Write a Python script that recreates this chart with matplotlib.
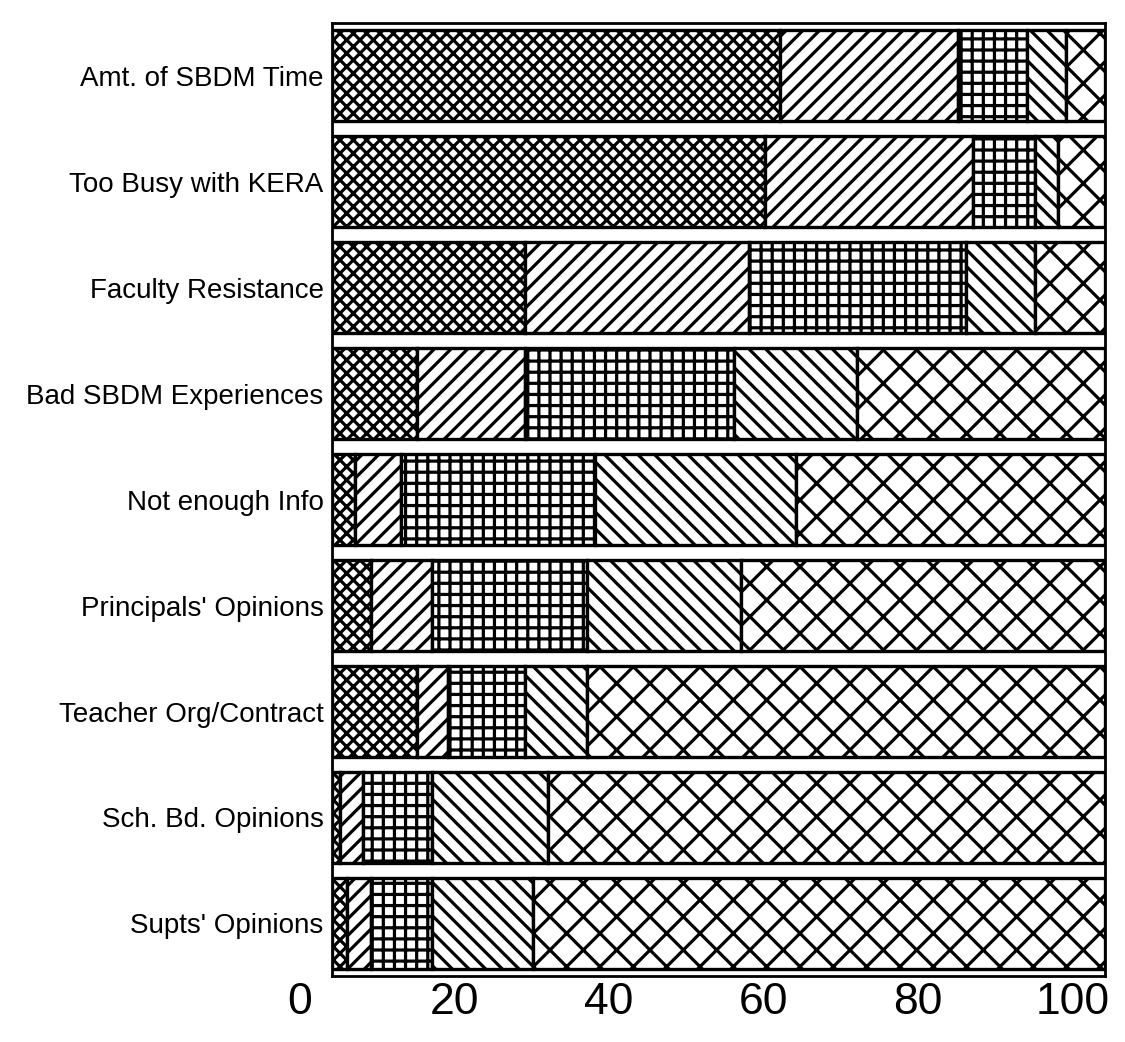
"""
plot.py

Stacked horizontal bars with hatch fills (scanned survey chart).
"""

import matplotlib

matplotlib.use("Agg")
import matplotlib.pyplot as plt
import matplotlib.transforms as mtransforms
import numpy as np

categories = [
    "Amt. of SBDM Time",
    "Too Busy with KERA",
    "Faculty Resistance",
    "Bad SBDM Experiences",
    "Not enough Info",
    "Principals' Opinions",
    "Teacher Org/Contract",
    "Sch. Bd. Opinions",
    "Supts' Opinions",
]

# percentage of responses per segment, left to right
seg_1 = [58, 56, 25, 11, 3, 5, 11, 1, 2]
seg_2 = [23, 27, 29, 14, 6, 8, 4, 3, 3]
seg_3 = [9, 8, 28, 27, 25, 20, 10, 9, 8]
seg_4 = [5, 3, 9, 16, 26, 20, 8, 15, 13]
seg_5 = [5, 6, 9, 32, 40, 47, 67, 72, 74]

xticks = [0, 20, 40, 60, 80, 100]

# diagonal hatches are half as dense as grid ones, hence the longer strings
hatches = ["xxxxx", "////", "+++", "\\\\\\\\", "xx"]

plt.rcParams["hatch.linewidth"] = 1.15
plt.rcParams["hatch.color"] = "black"

fig = plt.figure(figsize=(5.625, 5.21), dpi=200)
ax = fig.add_axes([0.295, 0.063, 0.687, 0.915])

y = np.arange(len(categories))[::-1]
left = np.zeros(len(categories))

for values, hatch in zip([seg_1, seg_2, seg_3, seg_4, seg_5], hatches):
    ax.barh(
        y,
        values,
        left=left,
        height=0.86,
        color="white",
        edgecolor="black",
        linewidth=1.2,
        hatch=hatch,
    )
    left += np.array(values)

ax.set_xlim(0, 100)
ax.set_ylim(-0.5, len(categories) - 0.5)

ax.set_yticks(y)
ax.set_yticklabels(categories, fontsize=10, family=["Liberation Sans", "DejaVu Sans"])
ax.set_xticks(xticks)
ax.set_xticklabels(
    [str(t) for t in xticks],
    fontsize=16,
    family=["Liberation Sans", "DejaVu Sans"],
)
ax.tick_params(axis="both", length=0)
ax.tick_params(axis="y", pad=3)
ax.tick_params(axis="x", pad=2)

# the scanned axis numbers sit a little left of the bar scale
shift = mtransforms.ScaledTranslation(-32 / 200, 0, fig.dpi_scale_trans)
for label in ax.get_xticklabels():
    label.set_transform(label.get_transform() + shift)

for spine in ax.spines.values():
    spine.set_linewidth(1.0)

fig.savefig("out.png", dpi=200, facecolor="white")
